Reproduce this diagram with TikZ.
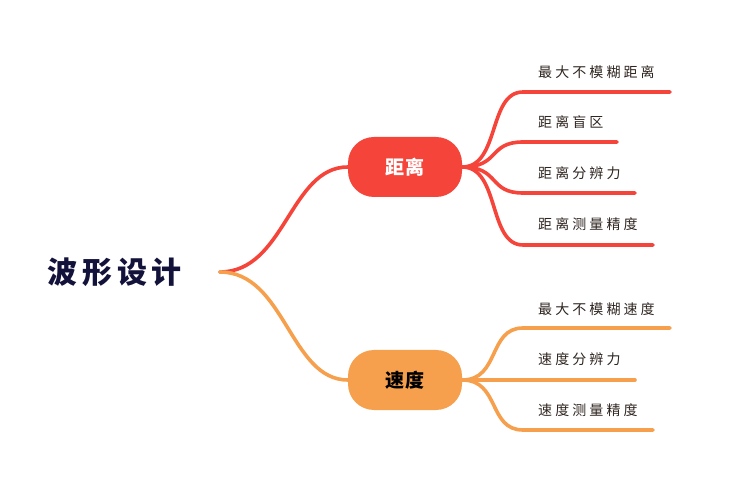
\documentclass[tikz,border=0pt]{standalone}
\usepackage{fontspec}
\setmainfont{Noto Sans CJK SC}
\definecolor{juli}{HTML}{F5443A}
\definecolor{sudu}{HTML}{F6A04D}
\definecolor{rootink}{HTML}{12123A}
\definecolor{leafink}{HTML}{2E2420}
\tikzset{
    branch/.style={line width=3.6pt, line cap=round},
    blob/.style={rounded corners=26pt, minimum width=114pt, minimum height=60pt, inner sep=0pt,
        font=\fontsize{19}{21}\selectfont\bfseries\addfontfeature{LetterSpace=10}},
    leaf/.style={anchor=west, inner sep=0pt, text=leafink,
        font=\fontsize{14}{16}\selectfont\addfontfeature{LetterSpace=22}},
}
\begin{document}
\begin{tikzpicture}[x=1pt, y=-1pt]
    % --- 画布 ---
    \useasboundingbox (0,0) rectangle (750,494);
    \def\Lx{523}      % 叶子线起点
    \def\Tx{538}      % 叶子文字左端

    % --- 中心主题 ---
    \node[text=rootink, font=\fontsize{30}{32}\selectfont\bfseries\addfontfeature{LetterSpace=16}, anchor=west] (root) at (44,272) {波形设计};
    \coordinate (rootR) at (220,272);

    % --- 一级分支 ---
    \node[blob, fill=juli, text=white] (jl) at (405,167) {距离};
    \node[blob, fill=sudu, text=black] (sd) at (405,380) {速度};

    \draw[branch, juli] (rootR) .. controls (285,272) and (290,167) .. (jl.west);
    \draw[branch, sudu] (rootR) .. controls (285,272) and (290,380) .. (sd.west);

    % --- 距离 的叶子 ---
    \node[leaf] (jl1) at (\Tx,72) {最大不模糊距离};
    \node[leaf] (jl2) at (\Tx,122) {距离盲区};
    \node[leaf] (jl3) at (\Tx,173) {距离分辨力};
    \node[leaf] (jl4) at (\Tx,224) {距离测量精度};
    \foreach \n/\y/\e in {1/92/670, 2/142/617, 3/193/635, 4/245/653}{
        \coordinate (jlS\n) at (\Lx,\y);
        \coordinate (jlE\n) at (\e,\y);
        \draw[branch, juli] (jl.east) .. controls (500,167) and (488,\y) .. (jlS\n) -- (jlE\n);
    }

    % --- 速度 的叶子 ---
    \node[leaf] (sd1) at (\Tx,309) {最大不模糊速度};
    \node[leaf] (sd2) at (\Tx,359) {速度分辨力};
    \node[leaf] (sd3) at (\Tx,410) {速度测量精度};
    \foreach \n/\y/\e in {1/328/670, 2/380/635, 3/430/653}{
        \coordinate (sdS\n) at (\Lx,\y);
        \coordinate (sdE\n) at (\e,\y);
        \draw[branch, sudu] (sd.east) .. controls (500,380) and (488,\y) .. (sdS\n) -- (sdE\n);
    }
\end{tikzpicture}
\end{document}
